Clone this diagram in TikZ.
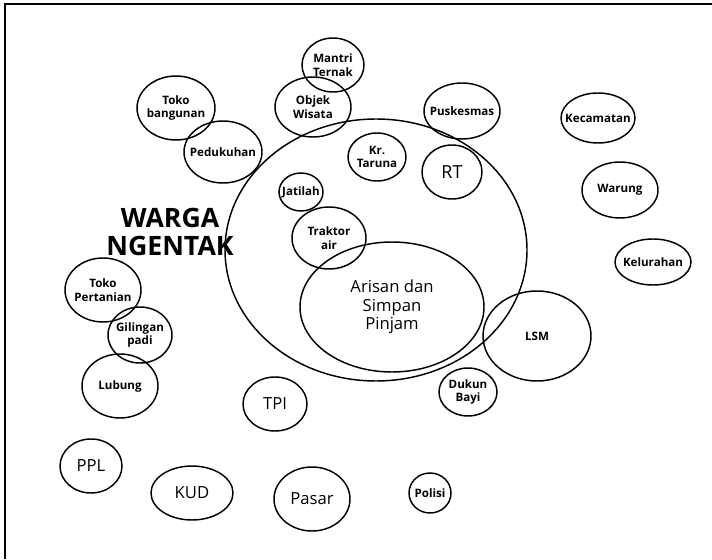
\documentclass[tikz,border=0pt]{standalone}
\usepackage{fontspec}
\setmainfont{Open Sans}
\usetikzlibrary{shapes.geometric}
\begin{document}
\begin{tikzpicture}[x=0.75pt,y=-0.75pt,
  % bubble: ellipse given by its half axes (in px units)
  bub/.style 2 args={ellipse, draw, line width=1.1pt, inner sep=0pt,
    minimum width=#1*1.5pt, minimum height=#2*1.5pt},
  sm/.style={font=\fontsize{8.7}{10}\selectfont\bfseries, align=center, inner sep=0pt},
  lg/.style={font=\fontsize{12.5}{14}\selectfont, align=center, inner sep=0pt},
  title/.style={font=\fontsize{20}{21}\selectfont\bfseries, align=center, inner sep=0pt}]
\useasboundingbox (0,0) rectangle (712,559);

% frame
\coordinate (fbl) at (5,559);
\coordinate (ftl) at (5,4);
\coordinate (ftr) at (712,4);
\draw[line width=1pt] (fbl) -- (ftl) -- (ftr);

% the village and its inner groups
\node[bub={151}{131}] (warga) at (376,250) {};
\node[title] (wargatxt) at (170,232) {WARGA\\NGENTAK};
\node[bub={92}{65}, label={[lg]center:Arisan dan\\Simpan\\Pinjam}] (arisan) at (392,307) {};
\node[bub={37}{31}, label={[sm]center:Traktor\\air}] (traktor) at (329,238) {};
\node[bub={22}{19}, label={[sm]center:Jatilah}] (jatilah) at (301,192) {};
\node[bub={29}{24}, label={[sm]center:Kr.\\Taruna}] (taruna) at (377,157) {};
\node[bub={30}{27}, label={[lg,font=\fontsize{13.5}{15}\selectfont]center:RT}] (rt) at (452,172) {};

% upper groups
\node[bub={31}{27}, label={[sm]center:Mantri\\Ternak}] (mantri) at (333,65) {};
\node[bub={38}{30}, label={[sm]center:Objek\\Wisata}] (objek) at (313,107) {};
\node[bub={38}{28}, label={[sm]center:Puskesmas}] (puskesmas) at (462,111) {};
\node[bub={39}{32}, label={[sm]center:Toko\\bangunan}] (bangunan) at (176,108) {};
\node[bub={39}{31}, label={[sm]center:Pedukuhan}] (pedukuhan) at (223,152) {};

% right side
\node[bub={37}{25}, label={[sm]center:Kecamatan}] (kecamatan) at (598,118) {};
\node[bub={38}{28}, label={[sm]center:Warung}] (warung) at (620,190) {};
\node[bub={38}{23}, label={[sm]center:Kelurahan}] (kelurahan) at (653,262) {};
\node[bub={54}{45}, label={[sm]center:LSM}] (lsm) at (537,336) {};
\node[bub={29}{24}, label={[sm]center:Dukun\\Bayi}] (dukun) at (468,392) {};
\node[bub={21}{20}, label={[sm]center:Polisi}] (polisi) at (430,493) {};

% left side
\node[bub={38}{32}, label={[sm]center:Toko\\Pertanian}] (pertanian) at (103,290) {};
\node[bub={32}{28}, label={[sm]center:Gilingan\\padi}] (gilingan) at (140,335) {};
\node[bub={38}{32}, label={[sm]center:Lubung}] (lubung) at (120,386) {};

% bottom
\node[bub={32}{27}, label={[lg]center:TPI}] (tpi) at (275,404) {};
\node[bub={31}{27}, label={[lg]center:PPL}] (ppl) at (91,466) {};
\node[bub={41}{27}, label={[lg]center:KUD}] (kud) at (192,493) {};
\node[bub={38}{32}, label={[lg]center:Pasar}] (pasar) at (312,499) {};
\end{tikzpicture}
\end{document}
